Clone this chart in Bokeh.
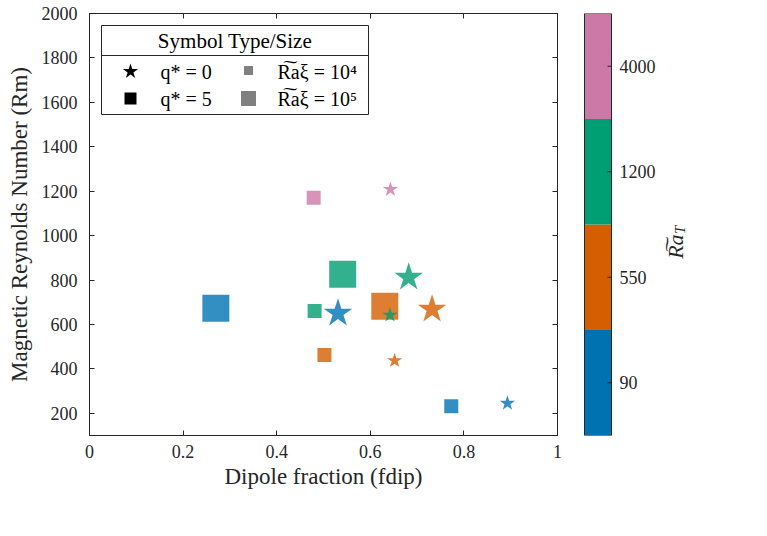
import numpy as np
from bokeh.plotting import figure
from bokeh.layouts import row
from bokeh.models import (Range1d, LinearAxis, FixedTicker, ColumnDataSource,
                          PrintfTickFormatter)
from bokeh.transform import factor_cmap
from bokeh.embed import file_html
from bokeh.resources import INLINE
from bokeh.core.properties import value

# ---------------- data ----------------
ra_t_levels = ["90", "550", "1200", "4000"]
ra_t_colors = ["#0072B2", "#D55E00", "#009E73", "#CC79A7"]

# q* = 5 (squares)
sq_ra_t = ["90", "90", "1200", "1200", "550", "550", "4000"]
sq_ra_xi = [1e5, 1e4, 1e5, 1e4, 1e4, 1e5, 1e4]
sq_fdip = [0.270, 0.773, 0.541, 0.481, 0.502, 0.631, 0.479]
sq_rm = [673, 232, 826, 660, 462, 682, 1170]

# q* = 0 (stars)
st_ra_t = ["90", "90", "1200", "550", "550", "1200", "4000"]
st_ra_xi = [1e4, 1e5, 1e5, 1e5, 1e4, 1e4, 1e4]
st_fdip = [0.893, 0.531, 0.682, 0.732, 0.652, 0.642, 0.643]
st_rm = [245, 650, 812, 668, 437, 642, 1208]

x_ticks = [0, 0.2, 0.4, 0.6, 0.8, 1.0]
y_ticks = [200, 400, 600, 800, 1000, 1200, 1400, 1600, 1800, 2000]

# ---------------- styles ----------------
FONT = "Liberation Serif"
AX = "#262626"
size_map = {"square": {1e4: 14, 1e5: 27}, "star": {1e4: 16, 1e5: 30}}

p = figure(x_range=Range1d(0, 1), y_range=Range1d(100, 2000),
           frame_width=468, frame_height=422,
           min_border_left=89, min_border_top=13, min_border_right=10, min_border_bottom=80,
           output_backend="svg", toolbar_location=None)
p.grid.visible = False
p.outline_line_color = AX

def style_axis(ax, labels=True):
    ax.major_tick_in = 5
    ax.major_tick_out = 0
    ax.minor_tick_in = 0
    ax.minor_tick_out = 0
    ax.axis_line_color = AX
    ax.major_tick_line_color = AX
    ax.major_label_text_font = FONT
    ax.axis_label_text_font = FONT
    ax.axis_label_text_font_style = "normal"
    ax.axis_label_text_color = AX
    if labels:
        ax.major_label_text_color = AX
        ax.major_label_text_font_size = "18px"
        ax.axis_label_text_font_size = "23px"
        ax.major_label_standoff = 9
    else:
        ax.major_label_text_color = None
        ax.major_label_text_font_size = "1px"
        ax.major_label_standoff = 0

p.xaxis.ticker = FixedTicker(ticks=x_ticks)
p.xaxis.formatter = PrintfTickFormatter(format="%g")
p.yaxis.ticker = FixedTicker(ticks=y_ticks)
p.xaxis.axis_label = "Dipole fraction (fdip)"
p.yaxis.axis_label = "Magnetic Reynolds Number (Rm)"
style_axis(p.xaxis[0])
style_axis(p.yaxis[0])
p.yaxis.major_label_standoff = 12
p.xaxis.axis_label_standoff = 3
p.yaxis.axis_label_standoff = 7

top_ax = LinearAxis(ticker=FixedTicker(ticks=x_ticks))
right_ax = LinearAxis(ticker=FixedTicker(ticks=y_ticks))
style_axis(top_ax, labels=False)
style_axis(right_ax, labels=False)
p.add_layout(top_ax, "above")
p.add_layout(right_ax, "right")

sq_src = ColumnDataSource(dict(x=sq_fdip, y=sq_rm, ra_t=sq_ra_t,
                               s=[size_map["square"][v] for v in sq_ra_xi]))
st_src = ColumnDataSource(dict(x=st_fdip, y=st_rm, ra_t=st_ra_t,
                               s=[size_map["star"][v] for v in st_ra_xi]))
p.scatter("x", "y", source=sq_src, marker="square", size="s",
          fill_color=factor_cmap("ra_t", palette=ra_t_colors, factors=ra_t_levels),
          fill_alpha=0.8, line_color=None)
p.scatter("x", "y", source=st_src, marker="star", size="s",
          fill_color=factor_cmap("ra_t", palette=ra_t_colors, factors=ra_t_levels),
          fill_alpha=0.8, line_color=None)

# ---------------- legend (layout in frame pixels, origin top-left) ----------------
p.extra_x_ranges = {"lx": Range1d(0, 468)}
p.extra_y_ranges = {"ly": Range1d(422, 0)}
L = dict(x_range_name="lx", y_range_name="ly")
p.quad(left=[12], right=[279], top=[12], bottom=[101], fill_color="white",
       line_color=AX, line_width=1, **L)
p.segment(x0=[12], y0=[42], x1=[279], y1=[42], line_color=AX, line_width=1, **L)
p.text(x=[145.5], y=[27], text=["Symbol Type/Size"], text_font=value(FONT),
       text_font_size="21px", text_align="center", text_baseline="middle",
       text_color="black", **L)
leg_src = ColumnDataSource(dict(x=[41, 41, 159, 159], y=[58, 85, 57, 85],
                                m=["star", "square", "square", "square"],
                                s=[16, 12, 9, 15],
                                c=["black", "black", "#808080", "#808080"]))
p.scatter("x", "y", source=leg_src, marker="m", size="s", fill_color="c",
          line_color=None, **L)
p.text(x=[71, 71, 188, 188], y=[58, 85, 58, 85],
       text=["q* = 0", "q* = 5", "R\u0360a\u03be = 10\u2074", "R\u0360a\u03be = 10\u2075"],
       text_font=value(FONT), text_font_size="20px", text_align="left",
       text_baseline="middle", text_color="black", **L)

# ---------------- colour bar (x in pixels from bar's left edge) ----------------
n_lev = len(ra_t_levels)
lev_mid = [i + 0.5 for i in range(n_lev)]
cb = figure(x_range=Range1d(-1, 140), y_range=Range1d(0, n_lev),
            frame_width=141, frame_height=422,
            min_border_left=16, min_border_top=13, min_border_right=10, min_border_bottom=80,
            x_axis_location=None, y_axis_location=None,
            output_backend="svg", toolbar_location=None)
cb.grid.visible = False
cb.outline_line_color = None
cb.hbar(y=lev_mid, left=0, right=27, height=1, fill_color=ra_t_colors, line_color=None)
cb.quad(left=[0], right=[27], bottom=[0], top=[n_lev], fill_color=None,
        line_color=AX, line_width=1)
cb.segment(x0=[23] * n_lev, x1=[27] * n_lev, y0=lev_mid, y1=lev_mid,
           line_color=AX, line_width=1)
cb.text(x=[35] * n_lev, y=lev_mid, text=ra_t_levels, text_font=value(FONT),
        text_font_size="18px", text_align="left", text_baseline="middle", text_color=AX)
cb.text(x=[91], y=[1.79], text=["R\u0360a"], angle=np.pi / 2,
        text_font=value(FONT), text_font_style="italic", text_font_size="22px",
        text_align="center", text_baseline="middle", text_color=AX)
cb.text(x=[95], y=[1.95], text=["T"], angle=np.pi / 2,
        text_font=value(FONT), text_font_style="italic", text_font_size="15px",
        text_align="center", text_baseline="middle", text_color=AX)

layout = row(p, cb)
open("out.html", "w").write(file_html(layout, INLINE))
